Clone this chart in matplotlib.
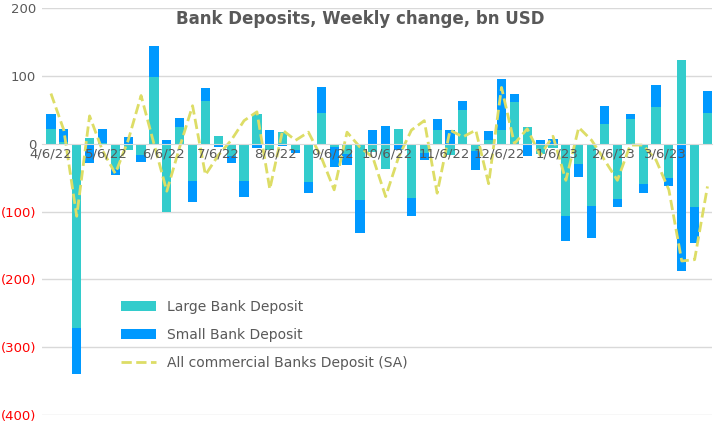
import matplotlib.pyplot as plt
import matplotlib.dates as mdates
import matplotlib.ticker as mticker
import numpy as np
import datetime as dt

start = dt.date(2022, 4, 6)
weeks = [start + dt.timedelta(days=7 * i) for i in range(52)]

large = [22, 3, -272, 8, 1, -37, -9, -17, 98, -101, 24, -55, 63, 12, -18, -55, 44, -10, 17, -9,
         -56, 45, -5, -15, -83, -12, -38, 21, -80, -14, 20, -17, 50, -11, 6, 20, 61, 25, -15, -7,
         -107, -30, -92, 29, -81, 36, -60, 54, -50, 123, -93, 45]
small = [22, 19, -67, -29, 21, -9, 10, -10, 46, 5, 14, -31, 19, -5, -11, -23, -7, 20, -4, -5,
         -16, 38, -30, -17, -49, 20, 26, -9, -27, -10, 17, 20, 13, -28, 13, 76, 12, -18, 5, 7,
         -37, -19, -47, 26, -12, 8, -12, 33, -13, -188, -53, 32]
total_sa = [74, 20, -107, 41, -10, -44, 5, 71, 0, -70, -5, 56, -46, -17, 5, 34, 47, -67, 20, 5,
            17, -20, -68, 17, -5, -20, -78, -20, 20, 34, -73, 20, 10, 20, -59, 83, 0, 22, -17, 11,
            -54, 24, 5, -24, -54, -2, -2, -24, -68, -173, -171, -63]
tick_dates = [dt.date(2022, m, 6) for m in range(4, 13)] + [dt.date(2023, m, 6) for m in range(1, 4)]

large = np.array(large)
small = np.array(small)
small_bottom = np.where(np.sign(small) == np.sign(large), large, 0)

fig = plt.figure(figsize=(7.2, 4.26), dpi=100)
ax = fig.add_axes([0.058, 0.026, 0.931, 0.955])
ax.set_axisbelow(False)

for v in range(-400, 201, 100):
    if v != 0:
        ax.axhline(v, color='#D9D9D9', lw=1, zorder=0)

b1 = ax.bar(weeks, large, width=5, color='#33CCCC', label='Large Bank Deposit', zorder=1)
b2 = ax.bar(weeks, small, bottom=small_bottom, width=5, color='#0099FF', label='Small Bank Deposit', zorder=1)
l1, = ax.plot(weeks, total_sa, color='#DDDD66', lw=2, ls='--', label='All commercial Banks Deposit (SA)', zorder=1.5)

ax.set_ylim(-400, 200)
ax.set_yticks(range(-400, 201, 100))
ax.yaxis.set_major_formatter(mticker.FuncFormatter(lambda v, p: f'({-int(v)})' if v < 0 else f'{int(v)}'))
ax.set_xlim(mdates.date2num(weeks[0]) - 5, mdates.date2num(weeks[-1]) + 2.5)
ax.set_xticks(tick_dates)
ax.xaxis.set_major_formatter(mticker.FuncFormatter(
    lambda v, p: (lambda d: f'{d.month}/{d.day}/{d.year % 100}')(mdates.num2date(v))))
ax.spines['bottom'].set_position(('data', 0))
ax.spines['bottom'].set_color('#D9D9D9')
for s in ['top', 'right', 'left']:
    ax.spines[s].set_visible(False)
ax.tick_params(axis='both', length=0, labelsize=9.5, colors='#595959')
ax.tick_params(axis='x', pad=3)
ax.tick_params(axis='y', pad=4)
fig.canvas.draw()
for lab in ax.get_yticklabels():
    if lab.get_text().startswith('('):
        lab.set_color('red')

fig.text(0.5, 0.955, 'Bank Deposits, Weekly change, bn USD', ha='center', va='center',
         fontsize=12, fontweight='bold', color='#595959')
ax.legend(handles=[b1, b2, l1], loc='lower left', bbox_to_anchor=(0.1, 0.08), frameon=False, fontsize=10,
          labelcolor='#595959', handlelength=2.5, labelspacing=1.0)

fig.savefig('out.png', dpi=100)
